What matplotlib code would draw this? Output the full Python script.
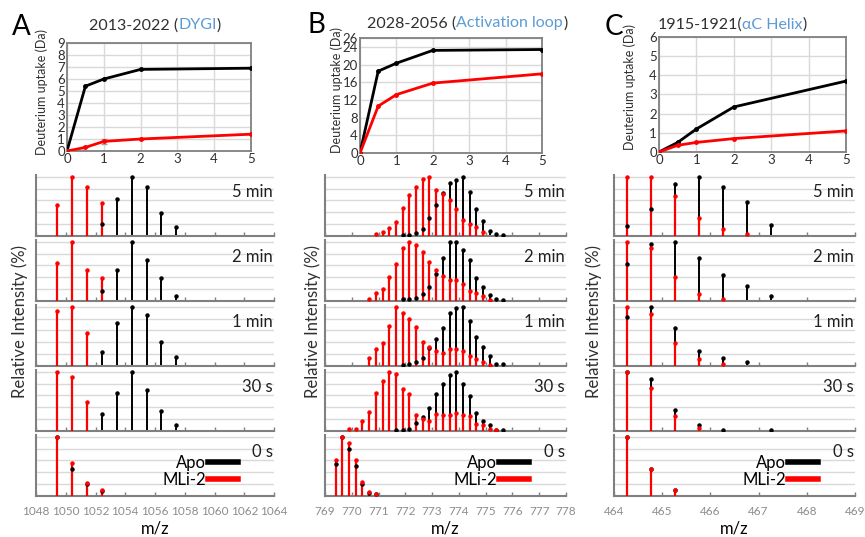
import numpy as np
import matplotlib.pyplot as plt
from matplotlib.lines import Line2D
from matplotlib.offsetbox import TextArea, HPacker, AnchoredOffsetbox

plt.rcParams['font.family'] = ['Lato', 'DejaVu Sans']

# ---- uptake curves (Da) ----
times_min = [0, 0.5, 1, 2, 5]
a_apo_uptake = [0, 5.4, 6.0, 6.8, 6.9]
a_mli_uptake = [0, 0.3, 0.8, 1.0, 1.4]
b_apo_uptake = [0, 18.5, 20.3, 23.2, 23.4]
b_mli_uptake = [0, 10.6, 13.2, 15.8, 17.9]
c_apo_uptake = [0, 0.5, 1.2, 2.35, 3.7]
c_mli_uptake = [0, 0.35, 0.5, 0.7, 1.1]

# ---- isotope spectra ----
time_labels = ['5 min', '2 min', '1 min', '30 s', '0 s']

a_mz = [1049.43, 1050.43, 1051.43, 1052.43, 1053.43, 1054.43, 1055.43, 1056.43, 1057.43]
a_apo = [[0, 0, 0, 0.20, 0.62, 1.0, 0.83, 0.38, 0.15],
         [0, 0, 0, 0.17, 0.52, 1.0, 0.69, 0.38, 0.085],
         [0, 0, 0, 0.23, 0.73, 1.0, 0.86, 0.40, 0.15],
         [0, 0, 0, 0.29, 0.64, 1.0, 0.70, 0.33, 0.10],
         [1.0, 0.45, 0.20, 0.08, 0, 0, 0, 0, 0]]
a_mli = [[0.52, 1.0, 0.83, 0.56, 0, 0, 0, 0, 0],
         [0.65, 1.0, 0.52, 0.38, 0, 0, 0, 0, 0],
         [0.93, 1.0, 0.56, 0, 0, 0, 0, 0, 0],
         [1.0, 0.92, 0.49, 0, 0, 0, 0, 0, 0],
         [1.0, 0.55, 0.22, 0.10, 0, 0, 0, 0, 0]]

b_mz = [769.40, 769.65, 769.90, 770.15, 770.40, 770.65, 770.90, 771.15, 771.40,
        771.65, 771.90, 772.15, 772.40, 772.65, 772.90, 773.15, 773.40, 773.65,
        773.90, 774.15, 774.40, 774.65, 774.90, 775.15, 775.40, 775.65]
b_apo = [[0, 0, 0, 0, 0, 0, 0, 0, 0, 0, 0.01, 0.02, 0.05, 0.12, 0.30, 0.52, 0.72,
          0.90, 0.95, 1.0, 0.74, 0.45, 0.26, 0.09, 0.04, 0.02],
         [0, 0, 0, 0, 0, 0, 0, 0, 0, 0, 0.03, 0.04, 0.05, 0.12, 0.24, 0.45, 0.72,
          1.0, 1.0, 0.86, 0.70, 0.39, 0.24, 0.10, 0.04, 0.02],
         [0, 0, 0, 0, 0, 0, 0, 0, 0, 0, 0.01, 0.03, 0.07, 0.14, 0.31, 0.46, 0.65,
          0.90, 0.98, 1.0, 0.76, 0.49, 0.32, 0.17, 0.04, 0.03],
         [0, 0, 0, 0, 0, 0, 0, 0, 0, 0.01, 0.01, 0.03, 0.14, 0.24, 0.39, 0.62, 0.79,
          0.94, 1.0, 0.80, 0.59, 0.31, 0.17, 0.10, 0.02, 0.01],
         [0.54, 1.0, 0.80, 0.51, 0.20, 0.05, 0.03, 0, 0, 0, 0, 0, 0, 0, 0, 0, 0,
          0, 0, 0, 0, 0, 0, 0, 0, 0]]
b_mli = [[0, 0, 0, 0, 0, 0, 0.03, 0.07, 0.14, 0.23, 0.47, 0.69, 0.83, 0.97, 1.0,
          0.78, 0.71, 0.60, 0.45, 0.27, 0.20, 0.15, 0.06, 0, 0, 0],
         [0, 0, 0, 0, 0, 0.04, 0.13, 0.20, 0.41, 0.62, 0.90, 1.0, 0.94, 0.83, 0.66,
          0.52, 0.43, 0.35, 0.35, 0.29, 0.17, 0.14, 0.08, 0.02, 0, 0],
         [0, 0, 0, 0, 0, 0.14, 0.28, 0.38, 0.67, 1.0, 0.90, 0.80, 0.66, 0.40, 0.32,
          0.25, 0.22, 0.29, 0.28, 0.25, 0.17, 0.12, 0.06, 0.02, 0, 0],
         [0, 0, 0.03, 0.04, 0.17, 0.32, 0.65, 0.85, 0.99, 0.97, 0.71, 0.63, 0.27,
          0.21, 0.17, 0.29, 0.27, 0.27, 0.31, 0.27, 0.25, 0.12, 0.10, 0.04, 0.01, 0],
         [0.61, 1.0, 0.89, 0.60, 0.23, 0.06, 0.04, 0, 0, 0, 0, 0, 0, 0, 0, 0, 0,
          0, 0, 0, 0, 0, 0, 0, 0, 0]]

c_mz = [464.26, 464.76, 465.26, 465.76, 466.26, 466.76, 467.26]
c_apo = [[0.17, 0.46, 0.87, 1.0, 0.83, 0.57, 0.18],
         [0.63, 0.97, 1.0, 0.72, 0.44, 0.25, 0.08],
         [0.82, 1.0, 0.64, 0.26, 0.14, 0.06, 0],
         [1.0, 0.87, 0.36, 0.10, 0.02, 0, 0.02],
         [1.0, 0.46, 0.10, 0, 0, 0, 0]]
c_mli = [[1.0, 1.0, 0.68, 0.31, 0.11, 0.04, 0],
         [1.0, 0.89, 0.40, 0.12, 0.03, 0, 0],
         [1.0, 0.88, 0.39, 0.11, 0.04, 0, 0],
         [1.0, 0.72, 0.25, 0.05, 0, 0, 0],
         [1.0, 0.46, 0.10, 0, 0, 0, 0]]

SPINE = '#808080'
GRID = '#D9D9D9'
BLUE = '#5B9BD5'
W, H = 865, 537


def px_axes(fig, left, top, right, bottom):
    return fig.add_axes([left / W, 1 - bottom / H, (right - left) / W, (bottom - top) / H])


def uptake_plot(ax, apo, mli, ymax, yticks, err=None):
    ax.plot(times_min, apo, color='black', lw=2, marker='o', ms=2.5, zorder=3)
    ax.plot(times_min, mli, color='red', lw=2, marker='o', ms=2.5, zorder=3)
    if err is not None:
        ax.errorbar(times_min, mli, yerr=err, fmt='none', ecolor='#A0A0A0',
                    elinewidth=1, capsize=2, zorder=2)
    ax.set_xlim(0, 5)
    ax.set_ylim(0, ymax)
    ax.set_xticks(range(6))
    ax.set_yticks(yticks)
    ax.grid(True, color=GRID, lw=1)
    ax.set_axisbelow(True)
    for s in ax.spines.values():
        s.set_color(SPINE)
        s.set_linewidth(1.3)
    ax.tick_params(length=0, pad=1.5, labelsize=9.5, labelcolor='#303030')


def colored_title(ax, parts, x, y):
    boxes = [TextArea(s, textprops=dict(color=c, fontsize=11.5)) for s, c in parts]
    pack = HPacker(children=boxes, align='baseline', pad=0, sep=0)
    box = AnchoredOffsetbox(loc='center', child=pack, pad=0, frameon=False,
                            bbox_to_anchor=(x, y), bbox_transform=ax.transAxes,
                            borderpad=0)
    ax.add_artist(box)


def spectra(fig, left, right, mz, apo, mli, xlim, xstep, show_legend=True):
    tops = [175, 240, 305, 370, 435]
    axes = []
    mz = np.array(mz)
    for i, lab in enumerate(time_labels):
        ax = px_axes(fig, left, tops[i], right, tops[i] + 61)
        y_apo = np.array(apo[i])
        y_mli = np.array(mli[i])
        ka = y_apo > 0
        km = y_mli > 0
        ax.vlines(mz[ka], 0, y_apo[ka], color='black', lw=1.4, zorder=2)
        ax.vlines(mz[km], 0, y_mli[km], color='red', lw=1.6, zorder=3)
        ax.plot(mz[ka], y_apo[ka], 'o', color='black', ms=2.2, zorder=4)
        ax.plot(mz[km], y_mli[km], 'o', color='red', ms=2.2, zorder=4)
        ax.set_xlim(*xlim)
        ax.set_ylim(0, 1.03)
        ax.set_yticks([0.2, 0.4, 0.6, 0.8, 1.0])
        ax.yaxis.grid(True, color=GRID, lw=1)
        ax.set_axisbelow(True)
        ax.set_xticks(np.arange(xlim[0], xlim[1] + 0.01, xstep))
        ax.tick_params(axis='y', length=0, labelleft=False)
        ax.tick_params(axis='x', direction='in', length=3, width=1, color=SPINE,
                       labelsize=8.5, labelcolor='#8C8C8C', pad=7)
        if i < 4:
            ax.tick_params(axis='x', labelbottom=False)
        for s in ['top', 'right']:
            ax.spines[s].set_visible(False)
        for s in ['left', 'bottom']:
            ax.spines[s].set_color(SPINE)
            ax.spines[s].set_linewidth(1.5)
        ax.text(0.995, 0.72, lab, transform=ax.transAxes, ha='right', va='center',
                fontsize=12, color='#202020')
        axes.append(ax)
    if show_legend:
        handles = [Line2D([], [], color='black', lw=4), Line2D([], [], color='red', lw=4)]
        axes[-1].legend(handles, ['Apo', 'MLi-2'], markerfirst=False, frameon=False,
                        loc='center', bbox_to_anchor=(0.69, 0.40), fontsize=12,
                        handlelength=1.8, handletextpad=0.1, labelspacing=0.05,
                        borderpad=0)
    axes[-1].set_xlabel('m/z', fontsize=12, labelpad=3)
    return axes


fig = plt.figure(figsize=(W / 100, H / 100), dpi=100)

# top uptake plots
axA = px_axes(fig, 67, 43, 251, 151)
uptake_plot(axA, a_apo_uptake, a_mli_uptake, 9, range(10), err=[0, 0, 0.2, 0, 0])
colored_title(axA, [('2013-2022 (', '#303030'), ('DYGI', BLUE), (')', '#303030')], 0.48, 1.165)

axB = px_axes(fig, 360, 38, 542, 153)
uptake_plot(axB, b_apo_uptake, b_mli_uptake, 26, [0, 4, 8, 12, 16, 20, 24, 26])
colored_title(axB, [('2028-2056 (', '#303030'), ('Activation loop', BLUE), (')', '#303030')], 0.59, 1.13)

axC = px_axes(fig, 659, 37, 846, 152)
uptake_plot(axC, c_apo_uptake, c_mli_uptake, 6, range(7))
colored_title(axC, [('1915-1921(', '#303030'), ('\u03b1C Helix', BLUE), (')', '#303030')], 0.39, 1.11)

for x, y in [(42, 92), (337, 90), (630, 87)]:
    fig.text(x / W, 1 - y / H, 'Deuterium uptake (Da)', rotation=90, ha='center',
             va='center', fontsize=9, color='#303030')

for x, y, letter in [(21, 27, 'A'), (316, 25, 'B'), (614, 27, 'C')]:
    fig.text(x / W, 1 - y / H, letter, ha='center', va='center', fontsize=20)

# spectra stacks
spectra(fig, 36, 274, a_mz, a_apo, a_mli, (1048, 1064), 2)
spectra(fig, 325, 566, b_mz, b_apo, b_mli, (769, 778), 1)
spectra(fig, 614, 855, c_mz, c_apo, c_mli, (464, 469), 1)

for x in [20, 313, 594]:
    fig.text(x / W, 1 - 322 / H, 'Relative Intensity (%)', rotation=90, ha='center',
             va='center', fontsize=12, color='#303030')

fig.savefig('out.png', dpi=100)
